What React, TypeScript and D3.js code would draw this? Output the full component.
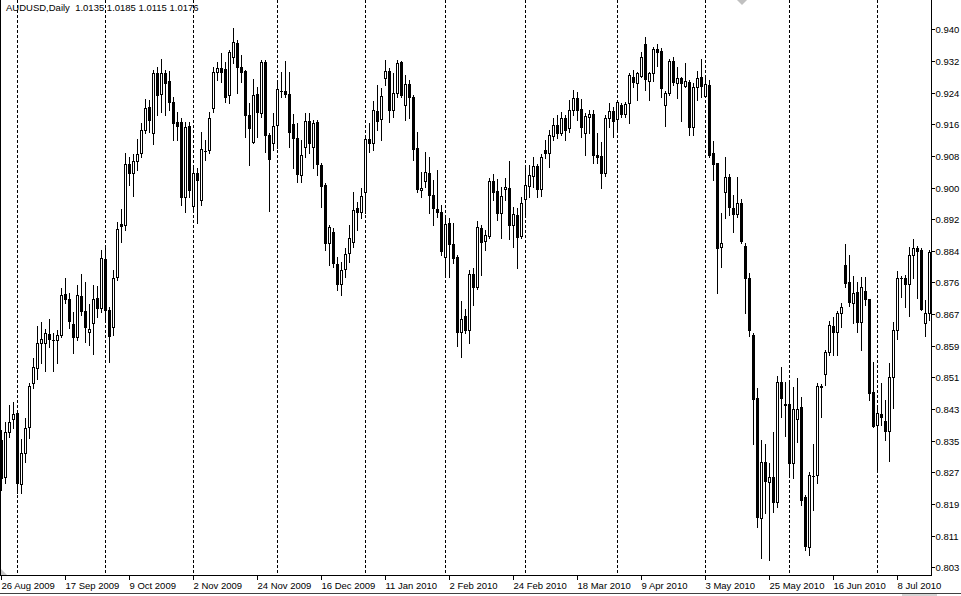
import React from "react";
import * as d3 from "d3";

// ---- data ----
const chartTitle = "AUDUSD,Daily  1.0135 1.0185 1.0115 1.0176";
const firstDate = "2009-08-26";
const holidays = ["2009-12-25", "2010-01-01"];

const opens = [
  0.8359, 0.8265, 0.8379, 0.8412, 0.8428, 0.8247, 0.8326, 0.8392, 0.8504, 0.8542,
  0.8606, 0.8606, 0.8629, 0.8614, 0.8614, 0.8626, 0.8731, 0.8718, 0.8654, 0.8621,
  0.8726, 0.8687, 0.8634, 0.8657, 0.8721, 0.8695, 0.8820, 0.8690, 0.8647, 0.8774,
  0.8909, 0.8907, 0.9062, 0.9039, 0.9070, 0.9090, 0.9149, 0.9207, 0.9141, 0.9294,
  0.9240, 0.9294, 0.9274, 0.9220, 0.9169, 0.9169, 0.8978, 0.9159, 0.8955, 0.9039,
  0.8970, 0.9095, 0.9098, 0.9205, 0.9296, 0.9307, 0.9304, 0.9238, 0.9335, 0.9370,
  0.9309, 0.9299, 0.9187, 0.9118, 0.9240, 0.9192, 0.9322, 0.9136, 0.9116, 0.9161,
  0.9248, 0.9248, 0.9240, 0.9164, 0.9128, 0.9034, 0.9105, 0.9172, 0.9105, 0.9169,
  0.9060, 0.9009, 0.8861, 0.8889, 0.8807, 0.8756, 0.8795, 0.8835, 0.8863, 0.8950,
  0.8940, 0.8991, 0.9126, 0.9116, 0.9197, 0.9177, 0.9281, 0.9299, 0.9200, 0.9243,
  0.9322, 0.9212, 0.9266, 0.9233, 0.9103, 0.8996, 0.9019, 0.9039, 0.8983, 0.8947,
  0.8940, 0.8825, 0.8912, 0.8858, 0.8825, 0.8634, 0.8675, 0.8639, 0.8782, 0.8749,
  0.8899, 0.8866, 0.8879, 0.9019, 0.8993, 0.8937, 0.8998, 0.9001, 0.8907, 0.8932,
  0.8879, 0.8973, 0.9006, 0.9031, 0.9057, 0.8998, 0.9098, 0.9090, 0.9133, 0.9161,
  0.9141, 0.9179, 0.9154, 0.9200, 0.9230, 0.9202, 0.9141, 0.9182, 0.9189, 0.9085,
  0.9082, 0.9039, 0.9179, 0.9197, 0.9177, 0.9212, 0.9189, 0.9218, 0.9284, 0.9268,
  0.9286, 0.9368, 0.9274, 0.9294, 0.9355, 0.9350, 0.9212, 0.9243, 0.9325, 0.9268,
  0.9281, 0.9261, 0.9271, 0.9156, 0.9258, 0.9284, 0.9235, 0.9263, 0.9090, 0.9065,
  0.8851, 0.8991, 0.9029, 0.8950, 0.8935, 0.8963, 0.8853, 0.8772, 0.8626, 0.8466,
  0.8160, 0.8303, 0.8252, 0.8265, 0.8201, 0.8507, 0.8450, 0.8450, 0.8300, 0.8412,
  0.8443, 0.8214, 0.8086, 0.8267, 0.8270, 0.8494, 0.8527, 0.8583, 0.8649, 0.8634,
  0.8682, 0.8805, 0.8761, 0.8708, 0.8736, 0.8659, 0.8738, 0.8718, 0.8481, 0.8397,
  0.8425, 0.8407, 0.8382, 0.8519, 0.8639, 0.8771, 0.8772, 0.8756, 0.8830, 0.8848,
  0.8843, 0.8657, 0.8682,
];
const highs = [
  0.8384, 0.8405, 0.8448, 0.8456, 0.8430, 0.8361, 0.8415, 0.8504, 0.8568, 0.8649,
  0.8659, 0.8642, 0.8667, 0.8631, 0.8639, 0.8746, 0.8771, 0.8733, 0.8685, 0.8754,
  0.8782, 0.8761, 0.8705, 0.8754, 0.8751, 0.8843, 0.8856, 0.8698, 0.8792, 0.8914,
  0.8947, 0.9090, 0.9080, 0.9088, 0.9126, 0.9167, 0.9228, 0.9225, 0.9302, 0.9309,
  0.9330, 0.9302, 0.9299, 0.9233, 0.9195, 0.9179, 0.9169, 0.9169, 0.9052, 0.9052,
  0.9144, 0.9123, 0.9195, 0.9309, 0.9322, 0.9345, 0.9322, 0.9353, 0.9409, 0.9378,
  0.9340, 0.9302, 0.9218, 0.9279, 0.9258, 0.9327, 0.9327, 0.9141, 0.9192, 0.9276,
  0.9296, 0.9325, 0.9296, 0.9189, 0.9167, 0.9123, 0.9192, 0.9192, 0.9174, 0.9174,
  0.9065, 0.9014, 0.8907, 0.8899, 0.8825, 0.8812, 0.8848, 0.8907, 0.8991, 0.8965,
  0.9001, 0.9128, 0.9167, 0.9223, 0.9263, 0.9256, 0.9327, 0.9307, 0.9294, 0.9327,
  0.9325, 0.9289, 0.9276, 0.9238, 0.9144, 0.9042, 0.9093, 0.9080, 0.9021, 0.9047,
  0.8958, 0.8924, 0.8924, 0.8912, 0.8830, 0.8713, 0.8693, 0.8792, 0.8797, 0.8917,
  0.8907, 0.8894, 0.9026, 0.9037, 0.9024, 0.9003, 0.9026, 0.9070, 0.8953, 0.8950,
  0.8978, 0.9060, 0.9060, 0.9080, 0.9062, 0.9088, 0.9123, 0.9149, 0.9179, 0.9187,
  0.9195, 0.9187, 0.9225, 0.9251, 0.9246, 0.9228, 0.9192, 0.9200, 0.9200, 0.9141,
  0.9118, 0.9187, 0.9218, 0.9207, 0.9225, 0.9218, 0.9220, 0.9294, 0.9302, 0.9296,
  0.9347, 0.9386, 0.9296, 0.9360, 0.9368, 0.9358, 0.9248, 0.9330, 0.9335, 0.9309,
  0.9284, 0.9319, 0.9276, 0.9268, 0.9299, 0.9330, 0.9281, 0.9276, 0.9121, 0.9065,
  0.8937, 0.9080, 0.9037, 0.8983, 0.9029, 0.8973, 0.8861, 0.8784, 0.8631, 0.8491,
  0.8359, 0.8349, 0.8300, 0.8379, 0.8522, 0.8545, 0.8507, 0.8504, 0.8494, 0.8517,
  0.8468, 0.8219, 0.8277, 0.8349, 0.8504, 0.8502, 0.8588, 0.8662, 0.8672, 0.8687,
  0.8708, 0.8858, 0.8830, 0.8777, 0.8761, 0.8774, 0.8774, 0.8718, 0.8558, 0.8440,
  0.8504, 0.8461, 0.8555, 0.8659, 0.8789, 0.8777, 0.8779, 0.8851, 0.8871, 0.8853,
  0.8848, 0.8715, 0.8843,
];
const lows = [
  0.8231, 0.8249, 0.8366, 0.8389, 0.8224, 0.8224, 0.8303, 0.8364, 0.8491, 0.8514,
  0.8555, 0.8535, 0.8596, 0.8535, 0.8555, 0.8621, 0.8708, 0.8644, 0.8580, 0.8614,
  0.8677, 0.8609, 0.8601, 0.8578, 0.8672, 0.8685, 0.8665, 0.8557, 0.8626, 0.8766,
  0.8863, 0.8894, 0.9009, 0.8981, 0.9047, 0.9080, 0.9141, 0.9144, 0.9113, 0.9187,
  0.9195, 0.9187, 0.9200, 0.9123, 0.9123, 0.8958, 0.8940, 0.8978, 0.8945, 0.8912,
  0.8958, 0.9072, 0.9090, 0.9195, 0.9276, 0.9271, 0.9220, 0.9218, 0.9319, 0.9243,
  0.9271, 0.9131, 0.9060, 0.9116, 0.9131, 0.9182, 0.9093, 0.8942, 0.9098, 0.9103,
  0.9233, 0.9233, 0.9105, 0.9052, 0.9016, 0.9016, 0.9080, 0.9090, 0.9052, 0.9034,
  0.8953, 0.8843, 0.8805, 0.8800, 0.8741, 0.8728, 0.8774, 0.8812, 0.8851, 0.8894,
  0.8924, 0.8937, 0.9093, 0.9098, 0.9149, 0.9123, 0.9263, 0.9169, 0.9182, 0.9233,
  0.9233, 0.9174, 0.9179, 0.9072, 0.8991, 0.8978, 0.9003, 0.8937, 0.8907, 0.8927,
  0.8830, 0.8777, 0.8774, 0.8810, 0.8598, 0.8570, 0.8631, 0.8606, 0.8703, 0.8744,
  0.8779, 0.8843, 0.8874, 0.8970, 0.8919, 0.8874, 0.8970, 0.8871, 0.8851, 0.8797,
  0.8874, 0.8927, 0.8978, 0.9003, 0.8978, 0.8981, 0.9077, 0.9054, 0.9123, 0.9128,
  0.9136, 0.9123, 0.9144, 0.9187, 0.9174, 0.9131, 0.9085, 0.9141, 0.9065, 0.9065,
  0.9001, 0.9031, 0.9156, 0.9131, 0.9149, 0.9182, 0.9182, 0.9167, 0.9258, 0.9225,
  0.9284, 0.9251, 0.9225, 0.9274, 0.9312, 0.9233, 0.9159, 0.9238, 0.9263, 0.9230,
  0.9172, 0.9258, 0.9136, 0.9136, 0.9225, 0.9233, 0.9233, 0.9080, 0.9021, 0.8733,
  0.8800, 0.8924, 0.8932, 0.8889, 0.8927, 0.8861, 0.8682, 0.8624, 0.8349, 0.8137,
  0.8058, 0.8173, 0.8053, 0.8175, 0.8188, 0.8417, 0.8369, 0.8270, 0.8262, 0.8354,
  0.8193, 0.8078, 0.8066, 0.8180, 0.8249, 0.8417, 0.8499, 0.8575, 0.8575, 0.8575,
  0.8647, 0.8749, 0.8700, 0.8657, 0.8634, 0.8588, 0.8703, 0.8461, 0.8392, 0.8282,
  0.8397, 0.8359, 0.8305, 0.8440, 0.8616, 0.8723, 0.8698, 0.8675, 0.8772, 0.8721,
  0.8690, 0.8624, 0.8665,
];
const closes = [
  0.8262, 0.8379, 0.8405, 0.8425, 0.8249, 0.8326, 0.8389, 0.8496, 0.8545, 0.8606,
  0.8616, 0.8631, 0.8616, 0.8614, 0.8626, 0.8728, 0.8718, 0.8662, 0.8621, 0.8728,
  0.8687, 0.8647, 0.8642, 0.8718, 0.8695, 0.8823, 0.8690, 0.8624, 0.8772, 0.8896,
  0.8904, 0.9062, 0.9039, 0.9070, 0.9088, 0.9149, 0.9205, 0.9174, 0.9294, 0.9238,
  0.9294, 0.9268, 0.9220, 0.9167, 0.9159, 0.8978, 0.9156, 0.8996, 0.9039, 0.9021,
  0.9100, 0.9095, 0.9179, 0.9296, 0.9307, 0.9296, 0.9233, 0.9347, 0.9373, 0.9309,
  0.9296, 0.9187, 0.9154, 0.9238, 0.9195, 0.9322, 0.9136, 0.9075, 0.9159, 0.9253,
  0.9248, 0.9240, 0.9144, 0.9128, 0.9037, 0.9085, 0.9172, 0.9116, 0.9167, 0.9062,
  0.9006, 0.8861, 0.8902, 0.8810, 0.8756, 0.8792, 0.8833, 0.8874, 0.8945, 0.8940,
  0.8981, 0.9126, 0.9116, 0.9200, 0.9172, 0.9235, 0.9299, 0.9200, 0.9243, 0.9319,
  0.9238, 0.9266, 0.9233, 0.9100, 0.8998, 0.9001, 0.9042, 0.8983, 0.8950, 0.8940,
  0.8840, 0.8909, 0.8858, 0.8823, 0.8634, 0.8667, 0.8639, 0.8782, 0.8749, 0.8902,
  0.8863, 0.8881, 0.9019, 0.8991, 0.8937, 0.8981, 0.9003, 0.8907, 0.8935, 0.8876,
  0.8963, 0.9009, 0.9034, 0.9057, 0.8998, 0.9080, 0.9090, 0.9136, 0.9161, 0.9141,
  0.9179, 0.9149, 0.9200, 0.9230, 0.9200, 0.9156, 0.9184, 0.9189, 0.9085, 0.9080,
  0.9039, 0.9179, 0.9197, 0.9172, 0.9220, 0.9189, 0.9215, 0.9289, 0.9271, 0.9294,
  0.9335, 0.9279, 0.9294, 0.9355, 0.9347, 0.9256, 0.9243, 0.9325, 0.9271, 0.9281,
  0.9268, 0.9274, 0.9156, 0.9258, 0.9281, 0.9261, 0.9266, 0.9085, 0.9062, 0.8848,
  0.8861, 0.9029, 0.8953, 0.8935, 0.8963, 0.8866, 0.8772, 0.8639, 0.8463, 0.8163,
  0.8303, 0.8254, 0.8265, 0.8201, 0.8507, 0.8466, 0.8448, 0.8300, 0.8438, 0.8438,
  0.8206, 0.8089, 0.8270, 0.8267, 0.8496, 0.8496, 0.8583, 0.8652, 0.8634, 0.8682,
  0.8698, 0.8759, 0.8710, 0.8733, 0.8659, 0.8749, 0.8718, 0.8479, 0.8395, 0.8428,
  0.8417, 0.8382, 0.8519, 0.8639, 0.8772, 0.8772, 0.8756, 0.8830, 0.8848, 0.8840,
  0.8693, 0.8682, 0.8838,
];

const dateTickLabels = [
  "26 Aug 2009", "17 Sep 2009", "9 Oct 2009", "2 Nov 2009", "24 Nov 2009",
  "16 Dec 2009", "11 Jan 2010", "2 Feb 2010", "24 Feb 2010", "18 Mar 2010",
  "9 Apr 2010", "3 May 2010", "25 May 2010", "16 Jun 2010", "8 Jul 2010",
];
const priceTicks = [
  0.9406, 0.9325, 0.9244, 0.9163, 0.9083, 0.9002, 0.8921, 0.8841, 0.876,
  0.8679, 0.8599, 0.8518, 0.8437, 0.8356, 0.8276, 0.8195, 0.8114, 0.8034,
];

// ---- layout ----
const W = 961;
const H = 596;
const plotRight = 931;
const plotBottom = 575;
const barStep = 4;
const firstBarX = 1;
const FONT = "'Liberation Sans', Arial, sans-serif";

function tradingDays(start: string, count: number, skip: string[]): Date[] {
  const out: Date[] = [];
  const d = new Date(start + "T00:00:00Z");
  while (out.length < count) {
    const wd = d.getUTCDay();
    const iso = d.toISOString().slice(0, 10);
    if (wd !== 0 && wd !== 6 && !skip.includes(iso)) out.push(new Date(d.getTime()));
    d.setUTCDate(d.getUTCDate() + 1);
  }
  return out;
}

// the price column is only wide enough to show three decimals
const priceLabel = (v: number) => (Math.floor(v * 1000 + 1e-6) / 1000).toFixed(3);

export default function App() {
  const n = opens.length;
  const dates = tradingDays(firstDate, n, holidays);
  const fmt = d3.utcFormat("%-d %b %Y");

  const x = d3
    .scaleLinear()
    .domain([0, n - 1])
    .range([firstBarX, firstBarX + barStep * (n - 1)]);
  const y = d3.scaleLinear().domain([0.8035, 0.9406]).range([567, 29]);
  const py = (v: number) => Math.round(y(v));

  const monthStarts = d3
    .range(1, n)
    .filter((i) => dates[i].getUTCMonth() !== dates[i - 1].getUTCMonth());

  const dateTicks = dateTickLabels
    .map((label) => ({ label, i: dates.findIndex((d) => fmt(d) === label) }))
    .filter((t) => t.i >= 0);

  const candles = d3.range(n).map((i) => {
    const o = opens[i], h = highs[i], l = lows[i], c = closes[i];
    const cx = Math.round(x(i));
    const yh = py(h), yl = py(l);
    const top = py(Math.max(o, c)), bot = py(Math.min(o, c));
    const bull = c >= o;
    return (
      <g key={i}>
        <rect x={cx} y={yh} width={1} height={Math.max(1, yl - yh + 1)} fill="#000" />
        {bot - top < 1 ? (
          <rect x={cx - 1} y={top} width={3} height={1} fill="#000" />
        ) : bull ? (
          <rect x={cx - 0.5} y={top + 0.5} width={2} height={bot - top} fill="#fff" stroke="#000" strokeWidth={1} />
        ) : (
          <rect x={cx - 1} y={top} width={3} height={bot - top + 1} fill="#000" />
        )}
      </g>
    );
  });

  return (
    <svg
      width={W}
      height={H}
      viewBox={`0 0 ${W} ${H}`}
      style={{ position: "absolute", left: 0, top: 0, background: "#fff", display: "block" }}
    >
      <rect x={0} y={0} width={W} height={H} fill="#fff" />
      {/* month separators */}
      {monthStarts.map((i) => (
        <line
          key={"g" + i}
          x1={Math.round(x(i)) + 0.5}
          x2={Math.round(x(i)) + 0.5}
          y1={0}
          y2={plotBottom}
          stroke="#000"
          strokeWidth={1}
          strokeDasharray="3,2"
        />
      ))}
      {candles}
      {/* frame */}
      <line x1={0.5} x2={0.5} y1={0} y2={plotBottom} stroke="#000" />
      <line x1={plotRight + 0.5} x2={plotRight + 0.5} y1={0} y2={plotBottom + 1} stroke="#000" />
      <line x1={0} x2={plotRight + 1} y1={plotBottom + 0.5} y2={plotBottom + 0.5} stroke="#000" />
      {/* price axis */}
      {priceTicks.map((v) => (
        <g key={"p" + v}>
          <line x1={plotRight + 1} x2={plotRight + 4} y1={py(v) + 0.5} y2={py(v) + 0.5} stroke="#000" />
          <text x={plotRight + 4.5} y={py(v) + 3.5} fontFamily={FONT} fontSize={9.5} fill="#000">
            {priceLabel(v)}
          </text>
        </g>
      ))}
      {/* time axis */}
      {dateTicks.map((t) => {
        const tx = Math.round(x(t.i));
        return (
          <g key={"d" + t.i}>
            <line x1={tx + 0.5} x2={tx + 0.5} y1={plotBottom + 1} y2={plotBottom + 5} stroke="#000" />
            <text x={tx + 0.5} y={588.5} fontFamily={FONT} fontSize={9.5} fill="#000">
              {t.label}
            </text>
          </g>
        );
      })}
      {/* title */}
      <text x={6} y={11} fontFamily={FONT} fontSize={9.5} fill="#000" style={{ whiteSpace: "pre" }}>
        {chartTitle}
      </text>
      {/* small markers */}
      <polygon points="737,0 747,0 742,5" fill="#c0c0c0" />
      <polygon points="1,569 1,575 7,575" fill="#c8c8c8" />
      <line x1={0} x2={W} y1={593.5} y2={593.5} stroke="#404040" />
      <rect x={902} y={594} width={35} height={2} fill="#d4d4d4" />
    </svg>
  );
}
